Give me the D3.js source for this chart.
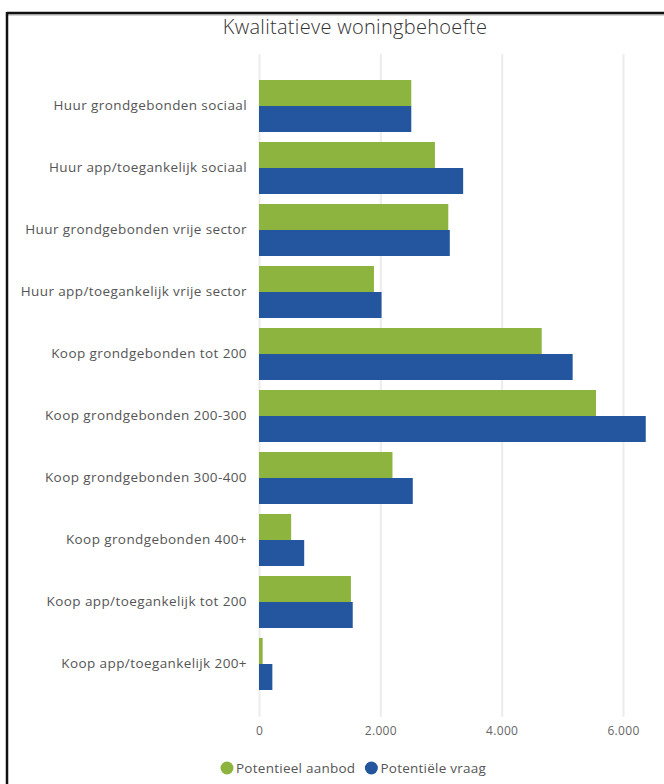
<!DOCTYPE html>
<html lang="nl">
<head>
    <meta charset="UTF-8">
    <script src="https://d3js.org/d3.v7.min.js"></script>
    <title>Kwalitatieve woningbehoefte</title>
    <style>
        body { margin: 0; background: #fff; }
        text { font-family: "Open Sans", "Noto Sans", sans-serif; }
    </style>
</head>
<body>
    <svg width="664" height="784" id="chart"></svg>
    <script>
        // data
        const categories = [
            "Huur grondgebonden sociaal",
            "Huur app/toegankelijk sociaal",
            "Huur grondgebonden vrije sector",
            "Huur app/toegankelijk vrije sector",
            "Koop grondgebonden tot 200",
            "Koop grondgebonden 200-300",
            "Koop grondgebonden 300-400",
            "Koop grondgebonden 400+",
            "Koop app/toegankelijk tot 200",
            "Koop app/toegankelijk 200+"
        ];
        const aanbod = [2510, 2900, 3120, 1895, 4660, 5555, 2200, 530, 1515, 60];
        const vraag  = [2510, 3365, 3145, 2020, 5170, 6375, 2535, 745, 1545, 220];
        const seriesNames = ["Potentieel aanbod", "Potentiële vraag"];
        const seriesColors = ["#8db43e", "#23569e"];
        const xTicks = [0, 2000, 4000, 6000];

        const svg = d3.select("#chart");

        // frame round the chart
        svg.append("line")
            .attr("x1", 7).attr("x2", 664).attr("y1", 15).attr("y2", 15)
            .attr("style", "stroke: #d4d4d4; stroke-width: 2");
        svg.append("line")
            .attr("x1", 7).attr("x2", 664).attr("y1", 13).attr("y2", 13)
            .attr("style", "stroke: #111; stroke-width: 2.5");
        svg.append("line")
            .attr("x1", 7).attr("x2", 7).attr("y1", 12).attr("y2", 784)
            .attr("style", "stroke: #111; stroke-width: 2.5");

        // title
        svg.append("text")
            .attr("x", 355)
            .attr("y", 34)
            .attr("text-anchor", "middle")
            .attr("style", "font-size: 20px; font-weight: 300; fill: #333; letter-spacing: 0.3px;")
            .text("Kwalitatieve woningbehoefte");

        const x = d3.scaleLinear().domain([0, 6000]).range([259, 623]);
        const y = d3.scaleBand().domain(categories).range([75, 695])
            .paddingInner(10 / 62).paddingOuter(5 / 62);
        const ySub = d3.scaleBand().domain([0, 1]).range([0, y.bandwidth()]);

        const nl = d3.formatLocale({ decimal: ",", thousands: ".", grouping: [3], currency: ["€", ""] });

        // x axis with gridlines
        const gridTop = 54, gridBottom = 717;
        const xAxis = svg.append("g")
            .attr("transform", "translate(0," + gridBottom + ")")
            .call(d3.axisBottom(x)
                .tickValues(xTicks)
                .tickFormat(nl.format(",.0f"))
                .tickSizeInner(-(gridBottom - gridTop))
                .tickSizeOuter(0)
                .tickPadding(9));
        xAxis.select(".domain").remove();
        xAxis.selectAll(".tick line").attr("stroke", "#ececec").attr("stroke-width", 2);
        xAxis.selectAll(".tick text")
            .attr("style", "font-size: 12px; fill: #666; font-family: 'Open Sans', sans-serif; letter-spacing: 0.3px;");

        // bars
        const rows = categories.map((c, i) => ({ cat: c, vals: [aanbod[i], vraag[i]] }));
        const groups = svg.append("g").selectAll("g")
            .data(rows)
            .join("g")
            .attr("transform", d => "translate(0," + y(d.cat) + ")");
        groups.selectAll("rect")
            .data(d => d.vals.map((v, s) => ({ v: v, s: s })))
            .join("rect")
            .attr("x", x(0))
            .attr("y", d => ySub(d.s))
            .attr("width", d => x(d.v) - x(0))
            .attr("height", ySub.bandwidth())
            .attr("fill", d => seriesColors[d.s]);

        // category labels
        const yAxis = svg.append("g")
            .attr("transform", "translate(" + x(0) + ",0)")
            .call(d3.axisLeft(y).tickSize(0).tickPadding(12));
        yAxis.select(".domain").remove();
        yAxis.selectAll(".tick text")
            .attr("style", "font-size: 13.5px; fill: #555; font-family: 'Open Sans', sans-serif; letter-spacing: 0.4px;");

        // legend
        let lx = 227;
        const ly = 768;
        seriesNames.forEach((name, i) => {
            svg.append("circle")
                .attr("cx", lx).attr("cy", ly).attr("r", 6.5)
                .attr("fill", seriesColors[i]);
            const t = svg.append("text")
                .attr("x", lx + 9)
                .attr("y", ly)
                .attr("dy", "0.35em")
                .attr("style", "font-size: 13.5px; fill: #555; letter-spacing: 0.25px;")
                .text(name);
            lx = lx + 9 + t.node().getComputedTextLength() + 16;
        });
    </script>
</body>
</html>
